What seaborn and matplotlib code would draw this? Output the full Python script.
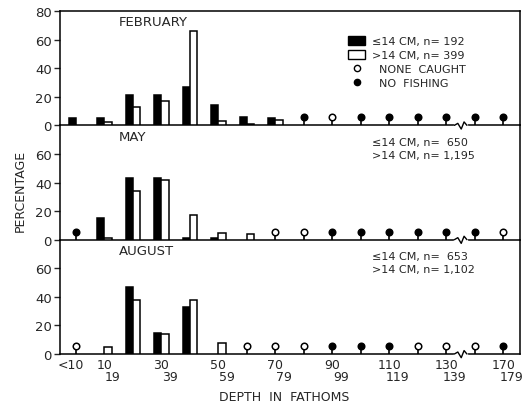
import numpy as np
import pandas as pd
import matplotlib
matplotlib.use("Agg")
import matplotlib.pyplot as plt
import seaborn as sns
from matplotlib.patches import Patch
from matplotlib.lines import Line2D

nan = np.nan

# depth classes (fathoms); the axis is broken between 130-139 and 160-169
depths = ['<10', '10-19', '20-29', '30-39', '40-49', '50-59', '60-69', '70-79',
          '80-89', '90-99', '100-109', '110-119', '120-129', '130-139',
          '160-169', '170-179']
labeled_depths = ['<10', '10-19', '30-39', '50-59', '70-79', '90-99',
                  '110-119', '130-139', '170-179']

months = ['FEBRUARY', 'MAY', 'AUGUST']

# percentage of catch, <=14 cm and >14 cm
feb_small = [5, 5, 21, 21, 27, 14, 6, 5, nan, nan, nan, nan, nan, nan, nan, nan]
feb_large = [nan, 2, 13, 17, 66, 3, 1, 4, nan, nan, nan, nan, nan, nan, nan, nan]
may_small = [nan, 15, 43, 43, 1, 1, nan, nan, nan, nan, nan, nan, nan, nan, nan, nan]
may_large = [nan, 1, 34, 42, 17, 5, 4, nan, nan, nan, nan, nan, nan, nan, nan, nan]
aug_small = [nan, nan, 47, 15, 33, nan, nan, nan, nan, nan, nan, nan, nan, nan, nan, nan]
aug_large = [nan, 5, 38, 14, 38, 8, nan, nan, nan, nan, nan, nan, nan, nan, nan, nan]

# station status where no bar: 'none' = none caught, 'nofish' = no fishing
feb_marks = ['', '', '', '', '', '', '', '', 'nofish', 'none', 'nofish', 'nofish',
             'nofish', 'nofish', 'nofish', 'nofish']
may_marks = ['nofish', '', '', '', '', '', '', 'none', 'none', 'nofish', 'nofish',
             'nofish', 'nofish', 'nofish', 'nofish', 'none']
aug_marks = ['none', '', '', '', '', '', 'none', 'none', 'none', 'nofish', 'nofish',
             'nofish', 'none', 'none', 'none', 'nofish']

n_small = ['192', '650', '653']
n_large = ['399', '1,195', '1,102']

small_list = [feb_small, may_small, aug_small]
large_list = [feb_large, may_large, aug_large]
marks_list = [feb_marks, may_marks, aug_marks]

sns.set_style("ticks")
plt.rcParams['font.family'] = ['DejaVu Sans']

fig, axes = plt.subplots(3, 1, figsize=(5.3, 4.06), dpi=100, sharex=True)
fig.subplots_adjust(left=0.1132, right=0.981, top=0.9704, bottom=0.1256, hspace=0)

MARK_Y = 5.5  # height of the status circles above the baseline

for k, ax in enumerate(axes):
    rows = []
    for d, s, l in zip(depths, small_list[k], large_list[k]):
        if not np.isnan(s):
            rows.append({'depth': d, 'size': 'small', 'pct': s})
        if not np.isnan(l):
            rows.append({'depth': d, 'size': 'large', 'pct': l})
    df = pd.DataFrame(rows)

    sns.barplot(data=df, x='depth', y='pct', hue='size', order=depths,
                hue_order=['small', 'large'],
                palette={'small': 'black', 'large': 'white'},
                width=0.5, dodge=True, saturation=1, errorbar=None,
                edgecolor='black', linewidth=1.1, legend=False, ax=ax, zorder=3)

    # status circles on little stems
    for i, m in enumerate(marks_list[k]):
        if m == '':
            continue
        ax.vlines(i, 0, MARK_Y, color='black', lw=1.2, zorder=3)
        ax.scatter(i, MARK_Y, s=22, marker='o',
                   facecolor='black' if m == 'nofish' else 'white',
                   edgecolor='black', linewidth=1.1, zorder=4)

    ax.set_xlim(-0.56, 15.58)
    ax.set_ylim(0, 80)
    ax.set_xlabel('')
    ax.set_ylabel('')
    ax.patch.set_visible(False)
    if k == 0:
        ax.set_yticks([0, 20, 40, 60, 80])
    else:
        ax.set_yticks([0, 20, 40, 60])
    ax.tick_params(axis='y', direction='out', length=4, width=1, pad=2, labelsize=9.5)
    ax.tick_params(axis='x', length=0, labelbottom=False)
    for sp in ax.spines.values():
        sp.set_visible(True)
        sp.set_linewidth(1.1)
        sp.set_color('black')
    if k > 0:
        ax.spines['top'].set_visible(False)

    # axis break on the baseline
    bx = 13.5
    ax.plot([bx - 0.2, bx + 0.2], [0, 0], color='white', lw=2.5,
            clip_on=False, zorder=5)
    ax.plot(bx + np.array([-0.22, -0.1, 0.02, 0.12, 0.22]),
            [0, 1.4, -2.6, 2.4, 0], color='black', lw=1.0,
            clip_on=False, zorder=6)

    ax.text(0.128, 0.905, months[k], transform=ax.transAxes, fontsize=9.5,
            ha='left', va='center')

    if k == 0:
        handles = [Patch(facecolor='black', edgecolor='black'),
                   Patch(facecolor='white', edgecolor='black'),
                   Line2D([], [], marker='o', ls='', markersize=4.5,
                          markerfacecolor='white', markeredgecolor='black'),
                   Line2D([], [], marker='o', ls='', markersize=4.5,
                          markerfacecolor='black', markeredgecolor='black')]
        labels = ['\u226414 CM, n= ' + n_small[k],
                  '>14 CM, n= ' + n_large[k],
                  '  NONE  CAUGHT', '  NO  FISHING']
        ax.legend(handles, labels, loc='upper left', bbox_to_anchor=(0.615, 0.83),
                  frameon=False, fontsize=8, handlelength=1.5, handleheight=0.8,
                  handletextpad=0.6, labelspacing=0.35, borderpad=0)
    else:
        ax.text(0.678, 0.855, '\u226414 CM, n=  ' + n_small[k],
                transform=ax.transAxes, fontsize=8, ha='left', va='center')
        ax.text(0.678, 0.74, '>14 CM, n= ' + n_large[k],
                transform=ax.transAxes, fontsize=8, ha='left', va='center')

# two-line depth labels under the bottom panel
ax = axes[-1]
trans = ax.get_xaxis_transform()
for d in labeled_depths:
    i = depths.index(d)
    if '-' in d:
        lo, hi = d.split('-')
        ax.text(i, -0.096, lo, transform=trans, ha='center', va='center', fontsize=9)
        ax.text(i + 0.3, -0.193, hi, transform=trans, ha='center', va='center', fontsize=9)
    else:
        ax.text(i - 0.17, -0.096, d, transform=trans, ha='center', va='center', fontsize=9)

fig.text(0.536, 0.022, 'DEPTH  IN  FATHOMS', ha='center', va='center', fontsize=9)
fig.text(0.038, 0.53, 'PERCENTAGE', rotation=90, ha='center', va='center', fontsize=9)

fig.savefig('out.png', dpi=100)
plt.close(fig)
